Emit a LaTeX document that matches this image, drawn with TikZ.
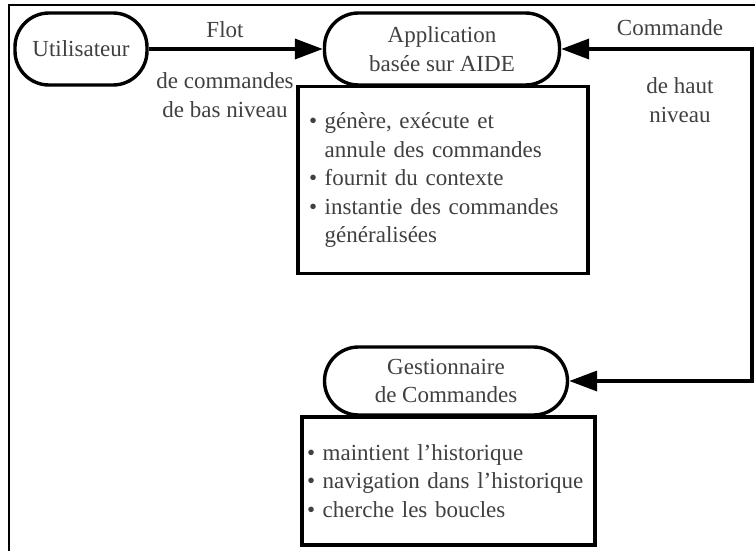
\documentclass[tikz,border=0pt]{standalone}
\usepackage{fontspec}
\setmainfont{Liberation Serif}
\usetikzlibrary{arrows.meta}

\tikzset{
  stade/.style={draw, line width=3.4pt, fill=white, rounded corners=34pt,
    align=center, minimum height=72pt, text=black!75},
  liste/.style={draw, line width=3.4pt, fill=white, align=left, text=black!75},
  fleche/.style={line width=3.6pt, -{Triangle[length=28pt,width=20pt]}},
  legende/.style={align=center, text=black!75}
}
\newcommand{\puce}{\textbullet\ }
\newcommand{\retrait}{\phantom{\textbullet\ }}

\begin{document}
\begin{tikzpicture}[x=1pt,y=-1pt,font=\fontsize{23}{28.5}\selectfont]
  \useasboundingbox (0,0) rectangle (755,551);
  % cadre
  \draw[line width=2.6pt] (9,551) -- (9,5) -- (755,5);

  % listes sous les noeuds
  \node[liste, minimum width=290pt, minimum height=187pt, text width=268pt,
        inner xsep=11pt] (appliste) at (443,180)
    {\puce génère, exécute et\\ \retrait annule des commandes\\
     \puce fournit du contexte\\ \puce instantie des commandes\\
     \retrait généralisées};
  \node[liste, minimum width=293pt, minimum height=128pt, text width=283pt,
        inner xsep=5pt] (gestliste) at (448.5,481)
    {\puce maintient l'historique\\ \puce navigation dans l'historique\\
     \puce cherche les boucles};

  \node[stade, minimum width=132pt] (util) at (81,49) {Utilisateur};
  \node[stade, minimum width=235pt] (app) at (442,49) {Application\\basée sur AIDE};
  \node[stade, minimum width=243pt, minimum height=68pt] (gest) at (446,381)
    {Gestionnaire\\de Commandes};

  \coordinate (coin) at (752,49);

  \draw[fleche] (util) -- (app);
  \draw[fleche, {Triangle[length=28pt,width=20pt]}-{Triangle[length=28pt,width=20pt]}]
    (app.east) -- (coin) -- (coin |- gest.east) -- (gest.east);

  \node[legende] (flot) at (225,30) {Flot};
  \node[legende] (bas) at (225,95) {de commandes\\de bas niveau};
  \node[legende] (cmd) at (670,28) {Commande};
  \node[legende] (haut) at (680,100) {de haut\\niveau};
\end{tikzpicture}
\end{document}
